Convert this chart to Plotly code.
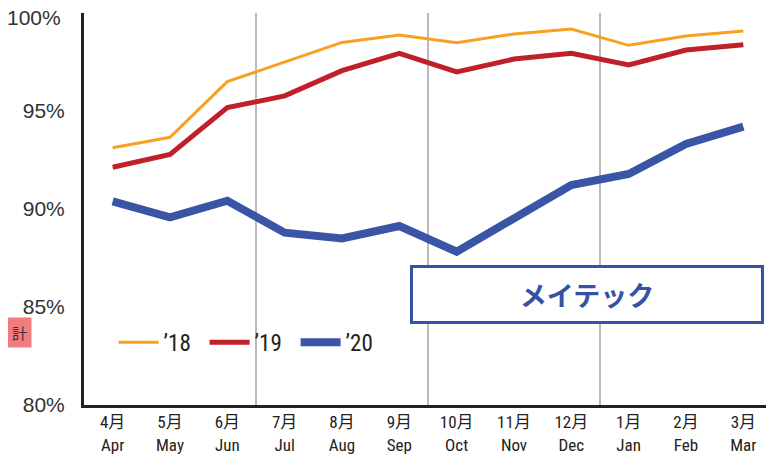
import plotly.graph_objects as go

months_jp = ["4月", "5月", "6月", "7月", "8月", "9月", "10月", "11月", "12月", "1月", "2月", "3月"]
months_en = ["Apr", "May", "Jun", "Jul", "Aug", "Sep", "Oct", "Nov", "Dec", "Jan", "Feb", "Mar"]
categories = list(range(12))
tick_labels = [f"{j}<br>{e}" for j, e in zip(months_jp, months_en)]

y18 = [93.13, 93.66, 96.5, 97.48, 98.5, 98.88, 98.48, 98.93, 99.18, 98.35, 98.83, 99.08]
y19 = [92.13, 92.79, 95.17, 95.77, 97.06, 97.94, 96.99, 97.65, 97.94, 97.35, 98.11, 98.38]
y20 = [90.39, 89.57, 90.42, 88.79, 88.50, 89.13, 87.82, 89.57, 91.22, 91.79, 93.32, 94.20]

y_ticks = [80, 85, 90, 95, 100]
y_tick_text = ["80%", "85%", "90%", "95%", "100%"]
quarter_dividers = [2.5, 5.5, 8.5]

label_font = "Liberation Sans Narrow, Roboto Condensed, Noto Sans CJK JP, Liberation Sans, sans-serif"
tick_font = dict(family="Liberation Sans, Arial, sans-serif", size=21, color="#333")

fig = go.Figure()
fig.add_trace(go.Scatter(x=categories, y=y18, mode="lines", name="’18",
                         line=dict(color="#F7A021", width=3)))
fig.add_trace(go.Scatter(x=categories, y=y19, mode="lines", name="’19",
                         line=dict(color="#C0202A", width=5)))
fig.add_trace(go.Scatter(x=categories, y=y20, mode="lines", name="’20",
                         line=dict(color="#3A55A6", width=8)))

for d in quarter_dividers:
    fig.add_shape(type="line", x0=d, x1=d, y0=0, y1=1, xref="x", yref="paper",
                  line=dict(color="#8C8C8C", width=1.2), layer="below")

fig.add_annotation(x=0.731, y=0.283, xref="paper", yref="paper",
                   xanchor="center", yanchor="middle",
                   text="<b>メイテック</b>", showarrow=False,
                   font=dict(family="Noto Sans CJK JP", size=27, color="#3553A4"),
                   bgcolor="white", bordercolor="#3553A4", borderwidth=3,
                   width=346, height=51)

# top tick label (placed as annotation so it is not dropped at the figure edge)
fig.add_annotation(x=-0.0305, y=y_ticks[-1], xref="paper", yref="y",
                   xanchor="right", yanchor="middle", yshift=-4,
                   text=y_tick_text[-1], showarrow=False, font=tick_font)

# clipped fragment of a neighbouring chart at the left edge
fig.add_annotation(x=-0.094, y=0.184, xref="paper", yref="paper", text="計",
                   showarrow=False, xanchor="center", yanchor="middle",
                   font=dict(family="Noto Sans CJK JP", size=15, color="#333"),
                   bgcolor="#F07C80", borderpad=4)

fig.update_layout(
    width=774, height=470,
    margin=dict(l=76, r=10, t=5, b=73, autoexpand=False),
    paper_bgcolor="white", plot_bgcolor="white",
    showlegend=True,
    legend=dict(orientation="h", x=0.043, y=0.16, xanchor="left", yanchor="middle",
                font=dict(family=label_font, size=23, color="#222"),
                entrywidth=36, entrywidthmode="pixels",
                bgcolor="rgba(0,0,0,0)", itemwidth=40),
    xaxis=dict(range=[-0.5, 11.5], tickmode="array", tickvals=categories,
               ticktext=tick_labels, showgrid=False, zeroline=False, automargin=False,
               showline=True, linecolor="#222", linewidth=3, ticks="",
               tickfont=dict(family=label_font, size=17, color="#222")),
    yaxis=dict(range=[80, 100], tickmode="array", tickvals=y_ticks[:-1],
               ticktext=y_tick_text[:-1], showgrid=False, zeroline=False, automargin=False,
               showline=True, linecolor="#222", linewidth=3, ticks="",
               ticklabelstandoff=12, tickfont=tick_font),
)

fig.write_html("out.html")
